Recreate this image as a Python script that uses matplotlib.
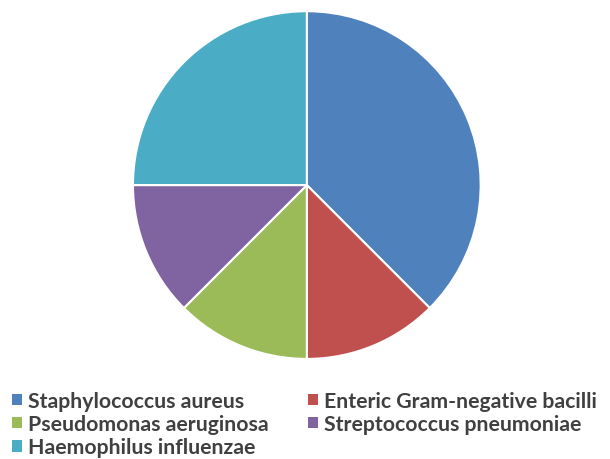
import matplotlib.pyplot as plt
from matplotlib.patches import Patch

# pathogens and their share
labels = ['Staphylococcus aureus', 'Enteric Gram-negative bacilli',
          'Pseudomonas aeruginosa', 'Streptococcus pneumoniae',
          'Haemophilus influenzae']
values = [37.5, 12.5, 12.5, 12.5, 25.0]
colors = ['#4F81BD', '#C0504D', '#9BBB59', '#8064A2', '#4BACC6']

plt.rcParams['font.family'] = ['Lato', 'DejaVu Sans']

fig = plt.figure(figsize=(6.1, 4.6), dpi=100)
ax = fig.add_axes([0.218, 0.217, 0.570, 0.757])
ax.pie(values, colors=colors, startangle=90, counterclock=False,
       wedgeprops={'edgecolor': 'white', 'linewidth': 1.5})
ax.set_xlim(-1, 1)
ax.set_ylim(-1, 1)
ax.set_aspect('equal')

# legend goes column-wise, so reorder to read row-wise like the original
order = [0, 2, 4, 1, 3]
handles = [Patch(facecolor=colors[i], label=labels[i]) for i in order]
fig.legend(handles=handles, loc='upper left', bbox_to_anchor=(-0.004, 0.18),
           ncol=2, frameon=False, handlelength=0.45, handleheight=0.45,
           handletextpad=0.3, columnspacing=1.85, labelspacing=0.15,
           prop={'size': 15.3, 'weight': 'bold'}, labelcolor='#404040',
           borderaxespad=0.3)

fig.savefig('out.png', dpi=100)
